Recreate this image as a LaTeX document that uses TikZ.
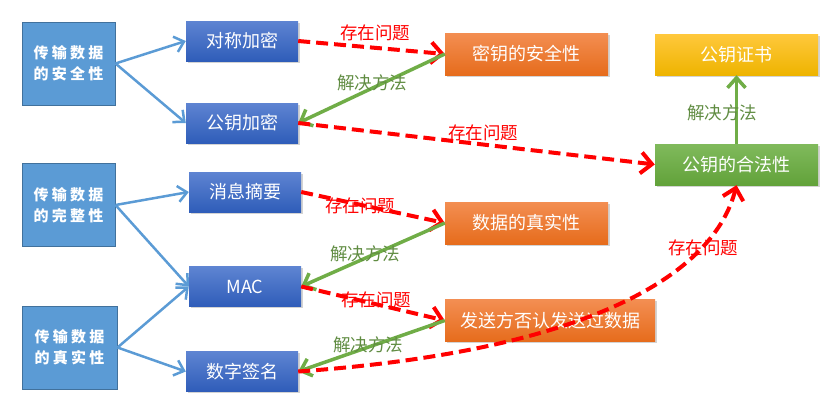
\documentclass[tikz,border=0pt]{standalone}
\usepackage{fontspec}
\setmainfont{Noto Sans CJK SC}
\newfontfamily\topicfont{Noto Sans CJK SC}[LetterSpace=22]
\usetikzlibrary{arrows.meta,shadows}

\definecolor{topicblue}{RGB}{91,155,213}
\definecolor{topicedge}{RGB}{65,113,156}
\definecolor{methodtop}{RGB}{94,132,210}
\definecolor{methodbot}{RGB}{47,93,185}
\definecolor{issuetop}{RGB}{243,142,82}
\definecolor{issuebot}{RGB}{230,108,28}
\definecolor{certtop}{RGB}{255,200,60}
\definecolor{certbot}{RGB}{238,180,0}
\definecolor{legaltop}{RGB}{128,186,92}
\definecolor{legalbot}{RGB}{98,162,58}
\definecolor{solvegreen}{RGB}{112,173,71}
\definecolor{solvetext}{RGB}{96,140,66}

\tikzset{
  topicbox/.style={draw=topicedge,fill=topicblue,line width=1pt,
    minimum width=93pt,minimum height=83pt,inner sep=0pt,align=center,
    text=white,font=\topicfont\bfseries\fontsize{15}{21}\selectfont},
  flatbox/.style={minimum height=40pt,inner sep=0pt,text=white,
    font=\fontsize{18}{20}\selectfont,
    drop shadow={opacity=0.35,shadow xshift=1.5pt,shadow yshift=-1.5pt}},
  methodbox/.style={flatbox,top color=methodtop,bottom color=methodbot,minimum width=112pt},
  issuebox/.style={flatbox,top color=issuetop,bottom color=issuebot,minimum width=163pt,minimum height=42pt},
  certbox/.style={flatbox,top color=certtop,bottom color=certbot,minimum width=163pt,minimum height=41pt},
  legalbox/.style={flatbox,top color=legaltop,bottom color=legalbot,minimum width=163pt,minimum height=41pt},
  linkarrow/.style={draw=topicblue,line width=2.5pt,
    -{Straight Barb[length=9pt,width=16pt]}},
  problem/.style={draw=red,line width=4pt,dash pattern=on 12pt off 6pt,
    -{Straight Barb[length=11pt,width=21pt]}},
  solution/.style={draw=solvegreen,line width=3.5pt,
    -{Straight Barb[length=10pt,width=18pt]}},
  problemtext/.style={text=red,font=\fontsize{17.5}{20}\selectfont,inner sep=0pt},
  solvetext/.style={text=solvetext,font=\fontsize{17.5}{20}\selectfont,inner sep=0pt}
}

\begin{document}
\begin{tikzpicture}[x=1pt,y=-1pt]
  \useasboundingbox (0,0) rectangle (834,415);
  \node[topicbox] (secure) at (68.5,63.5) {传输数据\\的安全性};
  \node[topicbox] (integrity) at (68.5,205) {传输数据\\的完整性};
  \node[topicbox,minimum width=95pt] (authentic) at (69.5,347.5) {传输数据\\的真实性};

  \node[methodbox] (symm) at (242,41) {对称加密};
  \node[methodbox] (pubenc) at (242,123) {公钥加密};
  \node[methodbox] (digest) at (245,192) {消息摘要};
  \node[methodbox] (mac) at (245,286.5) {MAC};
  \node[methodbox] (sign) at (242,371.5) {数字签名};

  \node[issuebox] (keysafe) at (526.5,54) {密钥的安全性};
  \node[issuebox] (datareal) at (526.5,223) {数据的真实性};
  \node[issuebox,minimum width=210pt] (deny) at (550,320.5) {发送方否认发送过数据};

  \node[certbox] (cert) at (736.5,54.5) {公钥证书};
  \node[legalbox] (legal) at (736.5,164.5) {公钥的合法性};

  \draw[linkarrow] (secure.east) -- (symm.west);
  \draw[linkarrow] (secure.east) -- (pubenc.west);
  \draw[linkarrow] (integrity.east) -- (digest.west);
  \draw[linkarrow] (integrity.east) -- (mac.west);
  \draw[linkarrow] (authentic.east) -- (mac.west);
  \draw[linkarrow] (authentic.east) -- (sign.west);

  \draw[problem] (symm.east) -- (keysafe.west);
  \draw[solution] (keysafe.west) -- (pubenc.east);
  \draw[problem] (pubenc.east) -- (legal.west);
  \draw[solution] (legal.north) -- (cert.south);
  \draw[problem] (digest.east) -- (datareal.west);
  \draw[solution] (datareal.west) -- (mac.east);
  \draw[problem] (mac.east) -- (deny.west);
  \draw[solution] (deny.west) -- (sign.east);
  \draw[problem] (sign.east) .. controls (600,350) and (715,270) .. (legal.south);

  \node[problemtext] (ask1) at (375,33) {存在问题};
  \node[solvetext] (fix1) at (372,83) {解决方法};
  \node[problemtext] (ask2) at (483,133) {存在问题};
  \node[solvetext] (fix2) at (722,113) {解决方法};
  \node[problemtext] (ask3) at (360,206) {存在问题};
  \node[solvetext] (fix3) at (365,254) {解决方法};
  \node[problemtext] (ask4) at (376,300) {存在问题};
  \node[solvetext] (fix4) at (368,345) {解决方法};
  \node[problemtext] (ask5) at (703,248) {存在问题};
\end{tikzpicture}
\end{document}
